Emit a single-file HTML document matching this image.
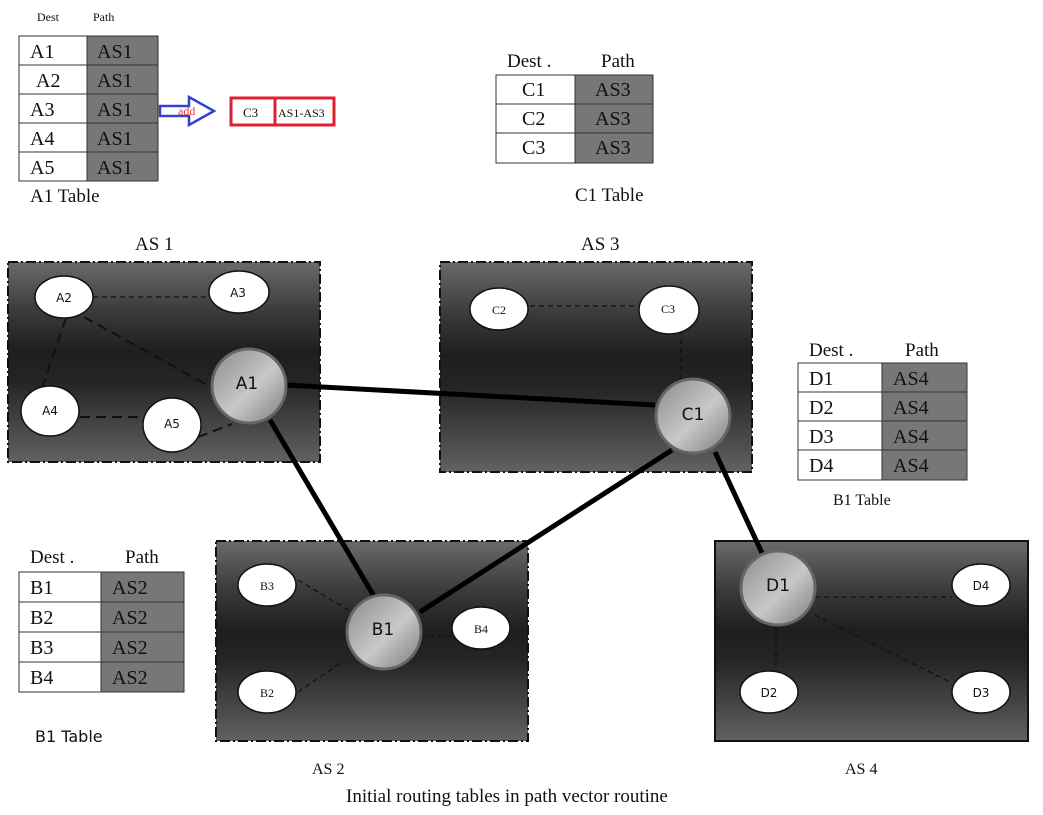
<!DOCTYPE html>
<html><head><meta charset="utf-8"><style>
body{margin:0;background:#fff}
svg text{font-family:"Liberation Serif",serif;fill:#111}
.s{font-family:"DejaVu Sans","Liberation Sans",sans-serif !important}
</style></head><body>
<svg width="1043" height="810" viewBox="0 0 1043 810" xmlns="http://www.w3.org/2000/svg">
<defs>
<linearGradient id="bg" x1="0" y1="0" x2="0" y2="1">
<stop offset="0" stop-color="#6a6a6a"/><stop offset="0.25" stop-color="#3a3a3a"/><stop offset="0.45" stop-color="#1e1e1e"/><stop offset="0.6" stop-color="#252525"/><stop offset="1" stop-color="#616161"/></linearGradient>
<linearGradient id="ball" x1="0" y1="0" x2="1" y2="1">
<stop offset="0" stop-color="#8a8a8a"/><stop offset="0.45" stop-color="#bdbdbd"/><stop offset="0.55" stop-color="#c8c8c8"/><stop offset="1" stop-color="#7a7a7a"/></linearGradient>
</defs>

<!-- A1 table -->
<text x="37" y="21" font-size="12">Dest</text><text x="93" y="21" font-size="12">Path</text>
<g font-size="20">
<rect x="19" y="36" width="68" height="145" fill="#fff" stroke="#333"/>
<rect x="87" y="36" width="71" height="145" fill="#777" stroke="#333"/>
<g stroke="#333"><line x1="19" y1="65" x2="158" y2="65"/><line x1="19" y1="94" x2="158" y2="94"/><line x1="19" y1="123" x2="158" y2="123"/><line x1="19" y1="152" x2="158" y2="152"/></g>
<text x="30" y="58">A1</text><text x="36" y="87">A2</text><text x="30" y="116">A3</text><text x="30" y="145">A4</text><text x="30" y="174">A5</text>
<text x="97" y="58">AS1</text><text x="97" y="87">AS1</text><text x="97" y="116">AS1</text><text x="97" y="145">AS1</text><text x="97" y="174">AS1</text>
</g>
<text x="30" y="202" font-size="19">A1 Table</text>
<path d="M160,106 H189 V97 L214,111 L189,125 V116 H160 Z" fill="#fff" stroke="#3344cc" stroke-width="2.5"/>
<text x="178" y="115" font-size="12" style="fill:#e33">add</text>
<rect x="231" y="98" width="44" height="27" fill="#fff" stroke="#e02030" stroke-width="3"/>
<rect x="275" y="98" width="59" height="27" fill="#fff" stroke="#e02030" stroke-width="3"/>
<text x="243" y="117" font-size="13">C3</text><text x="278" y="117" font-size="12">AS1-AS3</text>

<!-- C1 table -->
<text x="507" y="67" font-size="19">Dest .</text><text x="601" y="67" font-size="19">Path</text>
<g font-size="20">
<rect x="496" y="75" width="79" height="88" fill="#fff" stroke="#333"/>
<rect x="575" y="75" width="78" height="88" fill="#777" stroke="#333"/>
<g stroke="#333"><line x1="496" y1="104" x2="653" y2="104"/><line x1="496" y1="133" x2="653" y2="133"/></g>
<text x="522" y="96">C1</text><text x="522" y="125">C2</text><text x="522" y="154">C3</text>
<text x="595" y="96">AS3</text><text x="595" y="125">AS3</text><text x="595" y="154">AS3</text>
</g>
<text x="575" y="201" font-size="19">C1 Table</text>

<!-- D table -->
<text x="809" y="356" font-size="19">Dest .</text><text x="905" y="356" font-size="19">Path</text>
<g font-size="20">
<rect x="798" y="363" width="84" height="117" fill="#fff" stroke="#333"/>
<rect x="882" y="363" width="85" height="117" fill="#777" stroke="#333"/>
<g stroke="#333"><line x1="798" y1="392" x2="967" y2="392"/><line x1="798" y1="421" x2="967" y2="421"/><line x1="798" y1="450" x2="967" y2="450"/></g>
<text x="809" y="385">D1</text><text x="809" y="414">D2</text><text x="809" y="443">D3</text><text x="809" y="472">D4</text>
<text x="893" y="385">AS4</text><text x="893" y="414">AS4</text><text x="893" y="443">AS4</text><text x="893" y="472">AS4</text>
</g>
<text x="833" y="505" font-size="16">B1 Table</text>

<!-- B table -->
<text x="30" y="563" font-size="19">Dest .</text><text x="125" y="563" font-size="19">Path</text>
<g font-size="20">
<rect x="19" y="572" width="82" height="120" fill="#fff" stroke="#333"/>
<rect x="101" y="572" width="83" height="120" fill="#777" stroke="#333"/>
<g stroke="#333"><line x1="19" y1="602" x2="184" y2="602"/><line x1="19" y1="632" x2="184" y2="632"/><line x1="19" y1="662" x2="184" y2="662"/></g>
<text x="30" y="594">B1</text><text x="30" y="624">B2</text><text x="30" y="654">B3</text><text x="30" y="684">B4</text>
<text x="112" y="594">AS2</text><text x="112" y="624">AS2</text><text x="112" y="654">AS2</text><text x="112" y="684">AS2</text>
</g>
<text x="35" y="742" font-size="16" class="s">B1 Table</text>

<!-- AS labels -->
<text x="135" y="250" font-size="19">AS 1</text>
<text x="581" y="250" font-size="19">AS 3</text>
<text x="312" y="774" font-size="16">AS 2</text>
<text x="845" y="774" font-size="16">AS 4</text>
<text x="346" y="802" font-size="19">Initial routing tables in path vector routine</text>

<!-- boxes -->
<g stroke="#111" stroke-width="2" stroke-dasharray="10,3,2,3">
<rect x="8" y="262" width="312" height="200" fill="url(#bg)"/>
<rect x="440" y="262" width="312" height="210" fill="url(#bg)"/>
<rect x="216" y="541" width="312" height="200" fill="url(#bg)"/>
</g>
<rect x="715" y="541" width="313" height="200" fill="url(#bg)" stroke="#111" stroke-width="2"/>

<!-- dashed links -->
<g stroke="#111" stroke-width="1.3" stroke-dasharray="5,4">
<line x1="93" y1="297" x2="208" y2="297"/>
<line x1="530" y1="306" x2="639" y2="306"/>
<line x1="681" y1="330" x2="681" y2="380"/>
<line x1="298" y1="580" x2="355" y2="614"/>
<line x1="298" y1="692" x2="345" y2="660"/>
<line x1="420" y1="636" x2="452" y2="636"/>
<line x1="815" y1="597" x2="952" y2="597"/>
<line x1="776" y1="625" x2="776" y2="672"/>
<line x1="815" y1="615" x2="952" y2="683"/>
</g>
<g stroke="#111" stroke-width="2" stroke-dasharray="10,6">
<line x1="84" y1="317" x2="209" y2="386"/>
<line x1="66" y1="318" x2="42" y2="388"/>
<line x1="80" y1="417" x2="143" y2="417"/>
<line x1="198" y1="437" x2="232" y2="424"/>
</g>

<!-- thick links -->
<g stroke="#000" stroke-width="5">
<line x1="285" y1="385" x2="655" y2="405"/>
<line x1="270" y1="420" x2="375" y2="598"/>
<line x1="420" y1="612" x2="672" y2="450"/>
<line x1="715" y1="452" x2="762" y2="553"/>
</g>

<!-- ellipses -->
<g fill="#fff" stroke="#111" stroke-width="1.5">
<ellipse cx="64" cy="297" rx="29" ry="21"/><ellipse cx="239" cy="292" rx="30" ry="21"/>
<ellipse cx="50" cy="411" rx="29" ry="25"/><ellipse cx="172" cy="425" rx="29" ry="27"/>
<ellipse cx="499" cy="309" rx="29" ry="21"/><ellipse cx="669" cy="310" rx="30" ry="24"/>
<ellipse cx="267" cy="585" rx="29" ry="21"/><ellipse cx="267" cy="692" rx="29" ry="21"/>
<ellipse cx="481" cy="628" rx="29" ry="21"/>
<ellipse cx="981" cy="585" rx="29" ry="21"/><ellipse cx="769" cy="692" rx="29" ry="21"/><ellipse cx="981" cy="692" rx="29" ry="21"/>
</g>
<g font-size="12" class="s" text-anchor="middle">
<text x="64" y="302" class="s">A2</text><text x="238" y="297" class="s">A3</text><text x="50" y="415" class="s">A4</text><text x="172" y="428" class="s">A5</text>
<text x="499" y="314">C2</text><text x="668" y="313">C3</text>
<text x="267" y="590">B3</text><text x="267" y="697">B2</text><text x="481" y="633">B4</text>
<text x="981" y="590" class="s">D4</text><text x="769" y="697" class="s">D2</text><text x="981" y="697" class="s">D3</text>
</g>

<!-- big nodes -->
<g stroke="#666" stroke-width="3" fill="url(#ball)">
<circle cx="249" cy="386" r="37"/><circle cx="693" cy="416" r="37"/>
<circle cx="384" cy="632" r="37"/><circle cx="778" cy="588" r="37"/>
</g>
<g font-size="17" class="s" text-anchor="middle">
<text x="247" y="389" class="s">A1</text><text x="693" y="420" class="s">C1</text>
<text x="383" y="635" class="s">B1</text><text x="778" y="591" class="s">D1</text>
</g>
</svg>
</body></html>
